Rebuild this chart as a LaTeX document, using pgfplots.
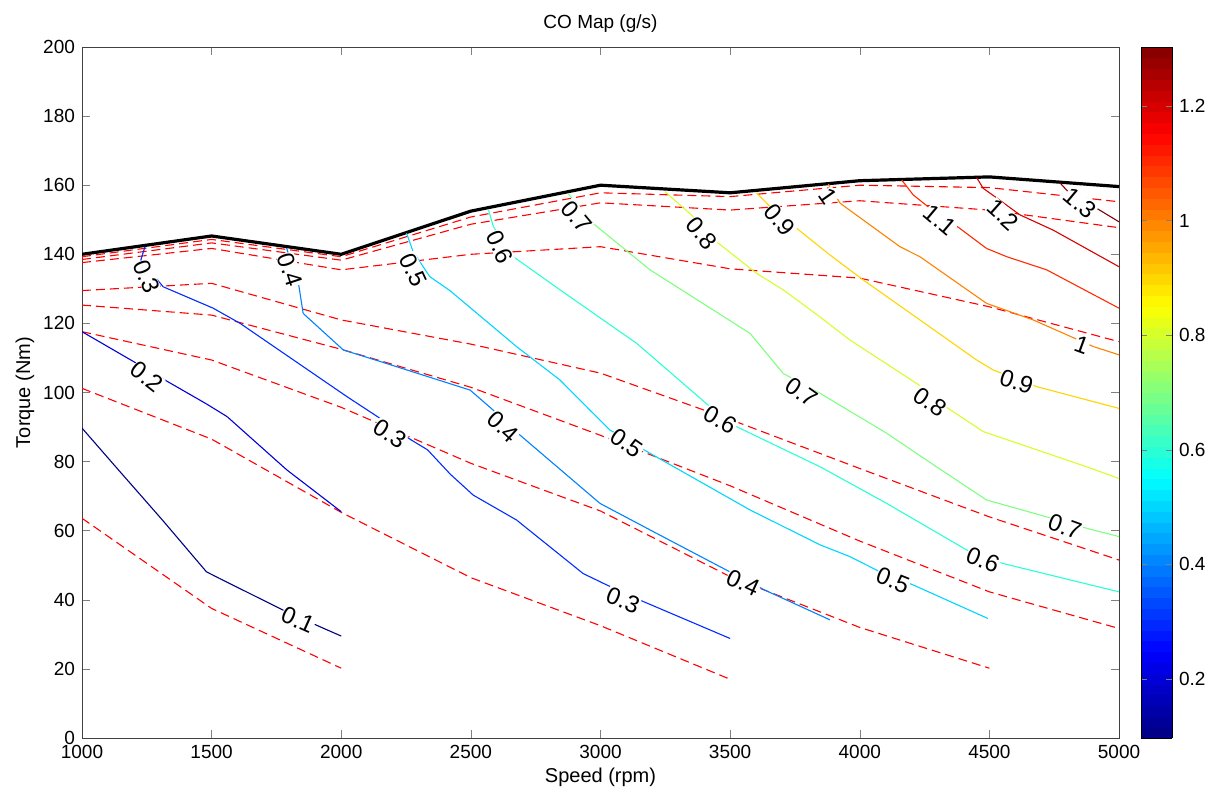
\documentclass[border=0pt]{standalone}
\usepackage{fontspec}
\setmainfont{Liberation Sans}
\usepackage{pgfplots}
\pgfplotsset{compat=1.18}
\pgfplotsset{
  /pgf/number format/assume math mode=true,
  /pgf/number format/1000 sep={},
  every tick label/.append style={font=\fontsize{9.5}{11}\selectfont},
  cl/.style={mesh, line width=0.55pt, forget plot},
  rdash/.style={red, line width=0.55pt, dash pattern=on 4.5pt off 2.5pt},
}
\begin{document}
\begin{tikzpicture}[
  lbl/.style={font=\fontsize{12}{14}\selectfont, fill=white, inner sep=0.2pt},
]
\begin{axis}[
  scale only axis, width=518.5pt, height=345.5pt,
  xmin=1000, xmax=5000, ymin=0, ymax=200,
  xtick={1000,1500,...,5000}, ytick={0,20,...,200},
  title={CO Map (g/s)},
  title style={font=\fontsize{9.5}{11}\selectfont, at={(axis description cs:0.5,1.0246)}, anchor=base, yshift=-5.5pt},
  xlabel={Speed (rpm)}, ylabel={Torque (Nm)},
  xlabel style={font=\fontsize{10}{12}\selectfont, at={(axis description cs:0.5,-0.0651)}, anchor=base},
  ylabel style={font=\fontsize{10}{12}\selectfont, at={(axis description cs:-0.055,0.5)}, anchor=center},
  tick align=inside, major tick length=4pt,
  axis line style={black!75},
  colormap/jet,
  point meta min=0.0968, point meta max=1.3032,
  colorbar sampled,
  colorbar style={
    samples=65,
    at={(parent axis.north east)}, anchor=north west, xshift=2.5pt,
    width=15.5pt,
    ytick={0.2,0.4,0.6,0.8,1,1.2},
    major tick length=3pt,
    axis line style={black},
  },
]
% max torque curve
\addplot[black, line width=1.6pt] coordinates {(1000,140) (1500,145.3) (2000,140) (2500,152.5) (3000,160) (3500,157.8) (4000,161.3) (4500,162.4) (5000,159.6)};
% dashed red lines
\addplot[rdash] coordinates {(1000,139.3) (1500,144.3) (2000,139.3) (2500,150.8) (3000,157.8) (3500,156.7) (4000,160) (4500,159.3) (5000,155.2)};
\addplot[rdash] coordinates {(1000,138.5) (1500,143.3) (2000,138.3) (2500,148.7) (3000,154.9) (3500,152.8) (4000,155.5) (4500,152.8) (5000,147.7)};
\addplot[rdash] coordinates {(1000,137.6) (1500,141.7) (2000,135.5) (2500,140) (3000,142.2) (3500,135.8) (4000,133.1) (4500,124.8) (5000,114.7)};
\addplot[rdash] coordinates {(1000,129.5) (1500,131.6) (2000,121) (2500,114) (3000,105.6) (3500,92.2) (4000,78) (4500,64) (5000,51.5)};
\addplot[rdash] coordinates {(1000,125.3) (1500,122.4) (2000,112.5) (2500,101.5) (3000,87.6) (3500,73) (4000,57) (4500,42.3) (5000,31.7)};
\addplot[rdash] coordinates {(1000,117.6) (1500,109.4) (2000,95.7) (2500,79.5) (3000,65.7) (3500,46.7) (4000,32) (4500,20.2)};
\addplot[rdash] coordinates {(1000,101.2) (1500,86.5) (2000,65.3) (2500,46.4) (3000,32.5) (3500,17)};
\addplot[rdash] coordinates {(1000,63.6) (1500,37.5) (2000,20.2)};
% CO contours
\addplot[cl, point meta=0.1] coordinates {(1000,89.7) (1130,78.5) (1310,63.1) (1480,48.1) (1530,46.2) (1776,37) (1918,32.2) (2000,29.5)};
\addplot[cl, point meta=0.2] coordinates {(1000,117.6) (1200,108.9) (1320,103.6) (1480,96.7) (1560,93) (1790,77.6) (2000,65.5)};
\addplot[cl, point meta=0.3] coordinates {(1243,142.2) (1227,138.4) (1313,130.6) (1506,124.4) (1610,120) (1816,109.4) (2022,98.8) (2150,92.5) (2269,86.3) (2333,83.4) (2420,76.4) (2509,70.3) (2676,63.1) (2933,47.6) (3024,44.3) (3165,39.5) (3500,28.8)};
\addplot[cl, point meta=0.4] coordinates {(1789,141.8) (1834,132.1) (1853,122.9) (2008,112.3) (2149,109) (2497,100.7) (2600,94) (2689,87.7) (2998,67.9) (3217,59.2) (3486,48.6) (3634,42.8) (3885,34.2)};
\addplot[cl, point meta=0.5] coordinates {(2252,146.1) (2277,140.8) (2342,133.5) (2419,129.5) (2676,113.3) (2844,103.6) (2959,94.9) (3037,89.1) (3191,82.4) (3577,66) (3847,55.9) (3962,52.5) (4078,48.1) (4206,44.3) (4494,34.6)};
\addplot[cl, point meta=0.6] coordinates {(2568,152.8) (2587,148) (2664,139.3) (2844,129.7) (3140,114.2) (3422,95.9) (3525,90.1) (3847,78.5) (4104,67.9) (4413,54.4) (4553,50.5) (5000,42.3)};
\addplot[cl, point meta=0.7] coordinates {(2876,157.5) (2972,148.9) (3191,135.5) (3577,117.1) (3705,105.5) (3846,99.8) (4104,88.2) (4296,78.5) (4489,68.9) (4721,64) (4875,60.7) (5000,58.3)};
\addplot[cl, point meta=0.8] coordinates {(3249,158.1) (3358,150.9) (3448,143.6) (3602,134.5) (3705,129.7) (3846,121.9) (3962,115.2) (4232,102) (4341,95.4) (4476,88.7) (4515,87.7) (4875,78.5) (5000,75.1)};
\addplot[cl, point meta=0.9] coordinates {(3602,157.8) (3654,153.8) (3757,147.5) (3885,139.8) (4013,132.6) (4451,109.4) (4515,106.5) (4682,101.7) (5000,95.4)};
\addplot[cl, point meta=1.0] coordinates {(3879,160.3) (3924,154.8) (4155,142.2) (4232,139.3) (4489,125.8) (4669,121) (4901,113.3) (5000,110.9)};
\addplot[cl, point meta=1.1] coordinates {(4162,161.5) (4206,157.2) (4271,153.3) (4386,147.5) (4489,141.7) (4567,139.3) (4721,135.5) (5000,124.4)};
\addplot[cl, point meta=1.2] coordinates {(4451,162.2) (4476,159.1) (4521,156.7) (4618,151.4) (4746,147) (5000,136.4)};
\addplot[cl, point meta=1.3] coordinates {(4772,160.7) (4804,158.1) (4914,153.3) (5000,149.4)};
% contour labels
\node[lbl, rotate=-24] at (axis cs:1833,34.2) {0.1};
\node[lbl, rotate=-38] at (axis cs:1250,104.6) {0.2};
\node[lbl, rotate=-68] at (axis cs:1250,133.5) {0.3};
\node[lbl, rotate=-33] at (axis cs:2188,88.2) {0.3};
\node[lbl, rotate=-22] at (axis cs:3087,39.9) {0.3};
\node[lbl, rotate=-72] at (axis cs:1802,135.5) {0.4};
\node[lbl, rotate=-42] at (axis cs:2624,90.1) {0.4};
\node[lbl, rotate=-25] at (axis cs:3550,44.9) {0.4};
\node[lbl, rotate=-65] at (axis cs:2278,135.5) {0.5};
\node[lbl, rotate=-35] at (axis cs:3102,85.4) {0.5};
\node[lbl, rotate=-22] at (axis cs:4128,45.7) {0.5};
\node[lbl, rotate=-65] at (axis cs:2612,142.2) {0.6};
\node[lbl, rotate=-30] at (axis cs:3461,92) {0.6};
\node[lbl, rotate=-22] at (axis cs:4475,51.5) {0.6};
\node[lbl, rotate=-50] at (axis cs:2908,150.9) {0.7};
\node[lbl, rotate=-35] at (axis cs:3777,100.1) {0.7};
\node[lbl, rotate=-20] at (axis cs:4791,61.2) {0.7};
\node[lbl, rotate=-50] at (axis cs:3390,146.1) {0.8};
\node[lbl, rotate=-35] at (axis cs:4271,97.3) {0.8};
\node[lbl, rotate=-50] at (axis cs:3692,149.9) {0.9};
\node[lbl, rotate=-18] at (axis cs:4605,103.1) {0.9};
\node[lbl, rotate=-55] at (axis cs:3879,156.7) {1};
\node[lbl, rotate=-20] at (axis cs:4856,113.7) {1};
\node[lbl, rotate=-40] at (axis cs:4309,149.9) {1.1};
\node[lbl, rotate=-42] at (axis cs:4553,151.4) {1.2};
\node[lbl, rotate=-40] at (axis cs:4849,154.8) {1.3};
\end{axis}
\path (current axis.south west) ++(-41pt,-32.5pt);
\path (current axis.north east) ++(48pt,23.5pt);
\end{tikzpicture}
\end{document}
